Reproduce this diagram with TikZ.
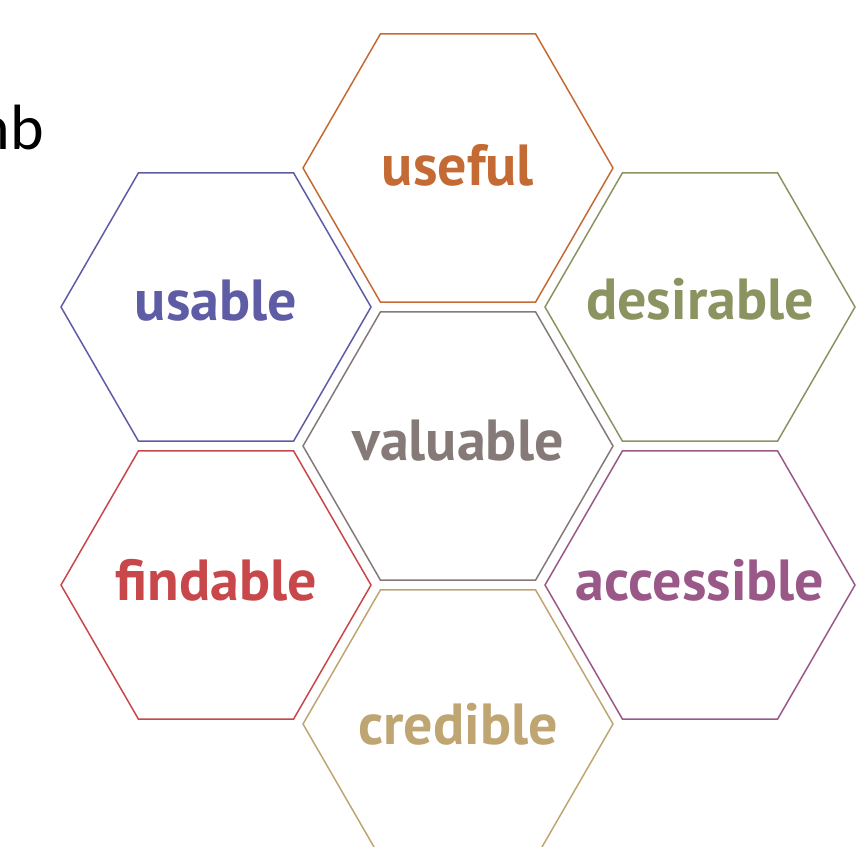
\documentclass[tikz,border=0pt]{standalone}
\usepackage{fontspec}
\setmainfont{Carlito}
\newfontfamily\cellfont{PT Sans}
\usetikzlibrary{shapes.geometric}
\definecolor{usefulc}{HTML}{C46A35}
\definecolor{usablec}{HTML}{5E5CA4}
\definecolor{desirablec}{HTML}{8B9461}
\definecolor{valuablec}{HTML}{857A77}
\definecolor{findablec}{HTML}{C8474A}
\definecolor{accessiblec}{HTML}{9A5888}
\definecolor{crediblec}{HTML}{BFA572}
\tikzset{
  hexcell/.style={shape=regular polygon, regular polygon sides=6,
    minimum size=310pt, inner sep=0pt, outer sep=0pt, line width=1.5pt, draw=#1},
  cellword/.style={text=#1, anchor=base, inner sep=0pt, font=\cellfont\fontsize{58}{58}\selectfont\bfseries},
}
\begin{document}
\begin{tikzpicture}[x=1pt,y=-1pt]
\useasboundingbox (0,0) rectangle (858,846);
\clip (0,0) rectangle (858,846);
% cut-off heading on the left
\node [anchor=base east, inner sep=0pt, font=\fontsize{64}{64}\selectfont] (head) at (44,149) {nb};
% the honeycomb
\node [hexcell=usefulc] (useful) at (458,168) {};
\node [hexcell=usablec] (usable) at (216,307) {};
\node [hexcell=desirablec] (desirable) at (700,307) {};
\node [hexcell=valuablec] (valuable) at (458,446) {};
\node [hexcell=findablec] (findable) at (216,585) {};
\node [hexcell=accessiblec] (accessible) at (700,585) {};
\node [hexcell=crediblec] (credible) at (458,724) {};
% words in the cells, baselines a little under the centres
\node [cellword=usefulc] (usefulw) at ([yshift=-17pt]useful) {useful};
\node [cellword=usablec] (usablew) at ([yshift=-13pt]usable) {usable};
\node [cellword=desirablec] (desirablew) at ([yshift=-12pt]desirable) {desirable};
\node [cellword=valuablec] (valuablew) at ([yshift=-14pt]valuable) {valuable};
\node [cellword=findablec] (findablew) at ([yshift=-15pt]findable) {findable};
\node [cellword=accessiblec] (accessiblew) at ([yshift=-15pt]accessible) {accessible};
\node [cellword=crediblec] (crediblew) at ([yshift=-20pt]credible) {credible};
\end{tikzpicture}
\end{document}
